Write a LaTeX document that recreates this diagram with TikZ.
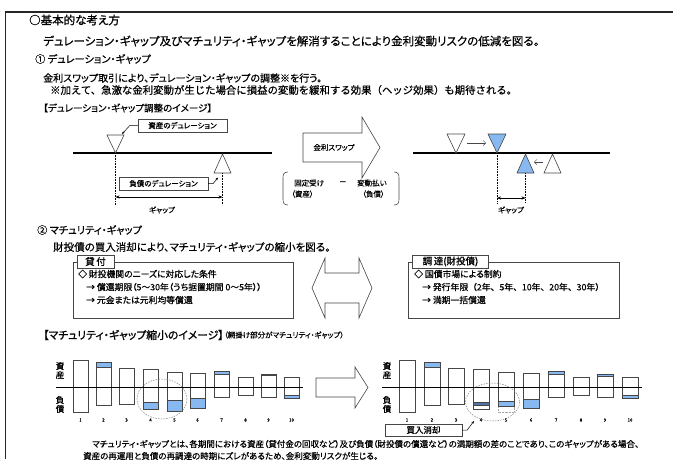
\documentclass[tikz,border=0pt]{standalone}
\usepackage{fontspec}
\setmainfont{Noto Sans CJK JP}[RawFeature={+palt},FakeBold=0.5]
\newfontfamily\hvy{Noto Sans CJK JP}[RawFeature={+palt},FakeBold=1.0]
\newfontfamily\fw{Noto Sans CJK JP}[FakeBold=0.5]
\usetikzlibrary{arrows.meta}
\definecolor{lb}{RGB}{135,185,240}
\definecolor{db}{RGB}{85,115,165}
\definecolor{edge}{RGB}{70,70,70}
\begin{document}
\begin{tikzpicture}[x=1pt,y=-1pt,
  txt/.style={inner sep=0pt,anchor=west,font=\fontsize{#1}{#1}\selectfont},
  dbox/.style={draw=edge,fill=white,inner sep=0pt,minimum height=13pt,font=\fontsize{7.5}{7.5}\selectfont},
  lblbox/.style={draw=edge,fill=white,inner sep=0pt,minimum height=13pt,font=\hvy\fontsize{9.5}{9.5}\selectfont},
  tri/.style={draw=edge,line width=0.6pt},
  vdot/.style={line width=0.6pt,dash pattern=on 0.8pt off 0.8pt},
  gap/.style={line width=0.6pt,{Stealth[length=4pt,width=3.2pt]}-{Stealth[length=4pt,width=3.2pt]}},
  lead/.style={line width=0.5pt,-{Stealth[length=3pt,width=2.4pt]}},
  move/.style={draw=edge,line width=0.5pt,-{Straight Barb[length=2.5pt,width=5pt]}},
  blk/.style={draw=edge,line width=0.6pt,fill=white},
  barl/.style={draw=edge,line width=0.7pt},
  num/.style={inner sep=0pt,font=\fontsize{4.5}{4.5}\selectfont},
  sbl/.style={inner sep=0pt,font=\hvy\fontsize{8.5}{8.5}\selectfont},
  circ/.style={draw=gray,line width=0.5pt,dash pattern=on 1.5pt off 1.2pt}]
\useasboundingbox (0,0) rectangle (673,459);
% frame
\draw[line width=2pt,black!85] (5,12) -- (673,12);
\draw[line width=1.4pt,black!85] (5.5,11) -- (5.5,459);

% ---------- texts ----------
\node[txt=11.5,font=\hvy\fontsize{11.5}{11.5}\selectfont] (title) at (29,20) {○基本的な考え方};
\node[txt=11.5] (l2) at (43,41) {デュレーション・ギャップ及びマチュリティ・ギャップを解消することにより金利変動リスクの低減を図る。};
\node[txt=10.2] (h1) at (35,59) {① デュレーション・ギャップ};
\node[txt=10] (l4) at (43,78) {金利スワップ取引により、デュレーション・ギャップの調整※を行う。};
\node[txt=10,font=\fw\fontsize{10.4}{10.4}\selectfont] (l5) at (50,90) {※加えて、急激な金利変動が生じた場合に損益の変動を緩和する効果（ヘッジ効果）も期待される。};
\node[txt=9.5] (l6) at (43,108) {【デュレーション・ギャップ調整のイメージ】};

% ---------- duration diagram (left) ----------
\coordinate (lineA) at (73,153);
\coordinate (lineB) at (272,153);
\draw[line width=1.4pt] (lineA) -- (lineB);
\coordinate (aApex) at (115.5,153);
\coordinate (lApex) at (222.5,154);
\draw[tri,fill=white] (107,135) -- (124,135) -- (aApex) -- cycle;
\draw[tri,fill=white] (214,173) -- (231,173) -- (lApex) -- cycle;
\coordinate (aBot) at (115.5,205);
\coordinate (lTop) at (222.5,173);
\coordinate (lBot) at (222.5,205);
\draw[vdot] (aApex) -- (aBot);
\draw[vdot] (lTop) -- (lBot);
\node[dbox,minimum width=89pt] (ad) at (182.5,125.5) {資産のデュレーション};
\node[dbox,minimum width=89pt] (ld) at (163.5,183.5) {負債のデュレーション};
\coordinate (adTip) at (122,134);
\coordinate (ldTip) at (218,177.5);
\draw[lead] (ad.west) -- ++(-8,0) -- (adTip);
\draw[lead] (ld.east) -- ++(5,0) -- (ldTip);
\coordinate (g1L) at (115.5,197);
\coordinate (g1R) at (222.5,197);
\draw[gap] (g1L) -- (g1R);
\node[txt=7.5,anchor=center] (gl1) at (162,210) {ギャップ};

% ---------- swap arrow ----------
\draw[blk] (303,133) -- (362,133) -- (362,117) -- (380,147.5) -- (362,178) -- (362,162) -- (303,162) -- cycle;
\node[txt=7.5,anchor=center] (swap) at (334,147.5) {金利スワップ};
\draw[draw=edge,line width=0.6pt] (288,172) .. controls (284,172) and (283,174) .. (283,178) -- (283,199) .. controls (283,203) and (284,205) .. (288,205);
\draw[draw=edge,line width=0.6pt] (394,172) .. controls (398,172) and (399,174) .. (399,178) -- (399,199) .. controls (399,203) and (398,205) .. (394,205);
\node[txt=7.5] (fx) at (294,183) {固定受け};
\node[txt=7.5] (mn) at (339,183) {－};
\node[txt=7.5] (fl) at (357,183) {変動払い};
\node[txt=7.5] (as) at (291,194) {（資産）};
\node[txt=7.5] (li) at (362,194) {（負債）};

% ---------- duration diagram (right) ----------
\coordinate (rlA) at (413,153);
\coordinate (rlB) at (610,153);
\draw[line width=1.4pt] (rlA) -- (rlB);
\draw[tri,fill=white] (447,134) -- (465,134) -- (456,153) -- cycle;
\draw[tri,fill=lb] (488,134) -- (506,134) -- (497,153) -- cycle;
\draw[tri,fill=lb] (517,173) -- (534,173) -- (525.5,154) -- cycle;
\draw[tri,fill=white] (544,173) -- (561,173) -- (552.5,154) -- cycle;
\coordinate (m1a) at (467,143);
\coordinate (m1b) at (486,143);
\coordinate (m2a) at (543,162);
\coordinate (m2b) at (534,162);
\draw[move] (m1a) -- (m1b);
\draw[move] (m2a) -- (m2b);
\coordinate (rA) at (497,153);
\coordinate (rAb) at (497,203);
\coordinate (rL) at (525.5,173);
\coordinate (rLb) at (525.5,203);
\draw[vdot] (rA) -- (rAb);
\draw[vdot] (rL) -- (rLb);
\coordinate (g2L) at (497,198);
\coordinate (g2R) at (525.5,198);
\draw[gap] (g2L) -- (g2R);
\node[txt=7.5,anchor=center] (gl2) at (511,210) {ギャップ};

% ---------- section 2 ----------
\node[txt=10.2] (h2) at (37,230) {② マチュリティ・ギャップ};
\node[txt=10.5] (l8) at (53,247) {財投債の買入消却により、マチュリティ・ギャップの縮小を図る。};

\draw[draw=edge,line width=0.6pt] (73,262) rectangle (293,318);
\node[lblbox,minimum width=37pt] (kashi) at (95.5,261.5) {貸\,付};
\node[txt=8.8] (k1) at (78,274) {◇ 財投機関のニーズに対応した条件};
\node[txt=8.8] (k2) at (86,287) {→ 償還期限（5～30年（うち据置期間 0～5年））};
\node[txt=8.8] (k3) at (86,300) {→ 元金または元利均等償還};

\draw[draw=edge,line width=0.6pt] (408,262) rectangle (619,318);
\node[lblbox,minimum width=76pt] (chotatsu) at (450.5,261.5) {調\,達(財投債)};
\node[txt=8.8] (c1) at (414,274) {◇ 国債市場による制約};
\node[txt=8.8,font=\fw\fontsize{8.8}{8.8}\selectfont] (c2) at (422,287) {→ 発行年限（2年、5年、10年、20年、30年）};
\node[txt=8.8] (c3) at (422,300) {→ 満期一括償還};

\draw[blk] (312,288) -- (325,258) -- (325,273) -- (359,273) -- (359,258) -- (372,288) -- (359,318) -- (359,303) -- (325,303) -- (325,318) -- cycle;

\node[txt=10.8,font=\hvy\fontsize{10.8}{10.8}\selectfont] (l9) at (43,335) {【マチュリティ・ギャップ縮小のイメージ】};
\node[txt=7.5,anchor=west] (l9b) at (l9.east) {（網掛け部分がマチュリティ・ギャップ）};

% ---------- bar chart left ----------
\node[sbl] at (60,366) {資};
\node[sbl] at (60,375) {産};
\node[sbl] at (60,400) {負};
\node[sbl] at (60,409) {債};
\foreach \x/\a/\b in {96/362/367, 143/402/409, 167/400/411, 190/398/408, 214/371/374, 261/374/375.8, 284/395/398}
  \draw[barl,fill=lb] (\x,\a) rectangle (\x+15,\b);
\foreach \i/\x/\t/\b in {1/73/360/412, 2/96/362/405, 3/119/368/404, 4/143/369/409, 5/167/372/411, 6/190/373/408, 7/214/371/397, 8/238/377/395, 9/261/374/397, 10/284/377/398}{
  \draw[barl] (\x,\t) rectangle (\x+15,\b);
  \node[num] at (\x+7.5,420) {\i};
}
\coordinate (axA) at (56,387);
\coordinate (axB) at (303,387);
\draw[line width=1pt] (axA) -- (axB);
\draw[circ] (162,399) ellipse [x radius=25, y radius=20];

% ---------- arrow between charts ----------
\draw[blk] (316,378) -- (355,378) -- (355,367) -- (368,387.5) -- (355,408) -- (355,397) -- (316,397) -- cycle;

% ---------- bar chart right ----------
\node[sbl] at (387,366) {資};
\node[sbl] at (387,375) {産};
\node[sbl] at (387,400) {負};
\node[sbl] at (387,409) {債};
\draw[draw=gray!70,line width=0.5pt,dash pattern=on 0.8pt off 0.6pt] (498,406) rectangle (514,412);
\foreach \x/\a/\b in {424/362/367, 498/401/406, 523/399/408, 548/371/374, 597/374/376, 622/395/398}
  \draw[barl,fill=lb] (\x,\a) rectangle (\x+16,\b);
\draw[barl,fill=db] (473,402) rectangle (489,405);
\foreach \i/\x/\t/\b in {1/399/360/412, 2/424/362/405, 3/448/368/404, 4/473/369/409, 5/498/372/406, 6/523/373/408, 7/548/371/397, 8/573/377/395, 9/597/374/397, 10/622/377/398}{
  \draw[barl] (\x,\t) rectangle (\x+16,\b);
}
\foreach \i/\x in {1/399, 2/424, 3/448, 4/473, 5/498, 6/523, 7/548, 8/573, 9/597, 10/622}
  \node[num] at (\x+8,420) {\i};
\coordinate (axC) at (382,387);
\coordinate (axD) at (642,387);
\draw[line width=1pt] (axC) -- (axD);
\draw[circ] (492.5,402) ellipse [x radius=27, y radius=19];

\node[dbox,minimum width=77pt,minimum height=12pt,font=\hvy\fontsize{8.5}{8.5}\selectfont] (kai) at (423.5,430) {買入消却};
\coordinate (kaiTip) at (474,421);
\draw[lead] (kai.east) -- ++(5,0) -- (kaiTip);

% ---------- bottom text ----------
\node[txt=8.5] (b1) at (92,444) {マチュリティ・ギャップとは、各期間における資産（貸付金の回収など）及び負債（財投債の償還など）の満期額の差のことであり、このギャップがある場合、};
\node[txt=8.5] (b2) at (83,456) {資産の再運用と負債の再調達の時期にズレがあるため、金利変動リスクが生じる。};
\end{tikzpicture}
\end{document}
